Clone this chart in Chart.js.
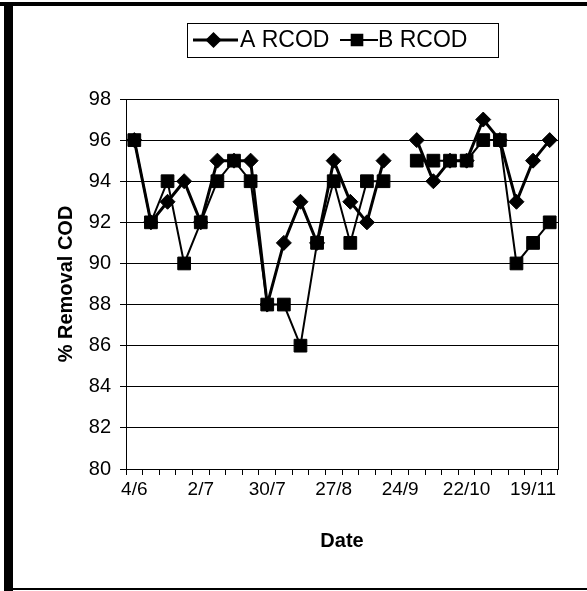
<!DOCTYPE html>
<html>
<head>
<meta charset="utf-8">
<script src="https://cdn.jsdelivr.net/npm/chart.js@4.4.0/dist/chart.umd.min.js"></script>
<style>
  html, body { margin: 0; padding: 0; background: #fff; }
  #wrap { width: 587px; height: 591px; position: relative; }
</style>
</head>
<body>
<div id="wrap"><canvas id="chart" width="587" height="591"></canvas></div>
<script>
// weekly sampling dates (category axis), label shown every 4th week
const dates = ["4/6", "11/6", "18/6", "25/6", "2/7", "9/7", "16/7", "23/7", "30/7", "6/8", "13/8",
  "20/8", "27/8", "3/9", "10/9", "17/9", "24/9", "1/10", "8/10", "15/10", "22/10", "29/10",
  "5/11", "12/11", "19/11", "26/11"];

// % removal COD, reactor A and B (null = no sample that week)
const aRcod = [96, 92, 93, 94, 92, 95, 95, 95, 88, 91, 93, 91, 95, 93, 92, 95, null,
  96, 94, 95, 95, 97, 96, 93, 95, 96];
const bRcod = [96, 92, 94, 90, 92, 94, 95, 94, 88, 88, 86, 91, 94, 91, 94, 94, null,
  95, 95, 95, 95, 96, 96, 90, 91, 92];

const yTicks = [80, 82, 84, 86, 88, 90, 92, 94, 96, 98];

const FONT = "'Liberation Sans', Arial, sans-serif";

// outer frame + right edge of plot box
const framePlugin = {
  id: "frame",
  beforeDraw(chart) {
    const ctx = chart.ctx;
    ctx.save();
    ctx.fillStyle = "#fff";
    ctx.fillRect(0, 0, chart.width, chart.height);
    ctx.fillStyle = "#000";
    ctx.fillRect(0, 2, 587, 4);      // top rule
    ctx.fillRect(4, 2, 9, 589);      // thick left bar
    ctx.fillRect(4, 588, 583, 2);    // bottom rule
    ctx.restore();
  },
  afterDraw(chart) {
    const { ctx, chartArea } = chart;
    ctx.save();
    ctx.strokeStyle = "#000";
    ctx.lineWidth = 1;
    ctx.beginPath();
    ctx.moveTo(chartArea.right + 0.5, chartArea.top);
    ctx.lineTo(chartArea.right + 0.5, chartArea.bottom);
    ctx.stroke();
    ctx.restore();
  }
};

// Excel style boxed legend with line + marker samples
const boxLegend = {
  id: "boxLegend",
  afterDraw(chart) {
    const ctx = chart.ctx;
    const box = { x: 187, y: 23, w: 311, h: 34 };
    ctx.save();
    ctx.fillStyle = "#fff";
    ctx.fillRect(box.x, box.y, box.w, box.h);
    ctx.strokeStyle = "#000";
    ctx.lineWidth = 1;
    ctx.strokeRect(box.x + 0.5, box.y + 0.5, box.w, box.h);
    const cy = box.y + box.h / 2;
    const items = [
      { ds: chart.data.datasets[0], x0: 193, x1: 238, tx: 240 },
      { ds: chart.data.datasets[1], x0: 340, x1: 378, tx: 378 }
    ];
    items.forEach(it => {
      ctx.strokeStyle = it.ds.borderColor;
      ctx.lineWidth = it.ds.borderWidth;
      ctx.beginPath();
      ctx.moveTo(it.x0, cy);
      ctx.lineTo(it.x1, cy);
      ctx.stroke();
      ctx.fillStyle = "#000";
      ctx.strokeStyle = "#000";
      Chart.helpers.drawPoint(ctx, {
        pointStyle: it.ds.pointStyle,
        radius: it.ds.pointRadius - 1.5,
        borderWidth: 1
      }, (it.x0 + it.x1) / 2 - 2, cy);
      ctx.fillStyle = "#000";
      ctx.font = "23px " + FONT;
      ctx.textBaseline = "middle";
      ctx.textAlign = "left";
      ctx.fillText(it.ds.label, it.tx, cy + 1);
    });
    ctx.restore();
  }
};

new Chart(document.getElementById("chart"), {
  type: "line",
  data: {
    labels: dates,
    datasets: [
      {
        label: "A RCOD",
        data: aRcod,
        borderColor: "#000",
        backgroundColor: "#000",
        borderWidth: 3,
        pointStyle: "rectRot",
        pointRadius: 7.5,
        pointBorderWidth: 1,
        tension: 0
      },
      {
        label: "B RCOD",
        data: bRcod,
        borderColor: "#000",
        backgroundColor: "#000",
        borderWidth: 2,
        pointStyle: "rect",
        pointRadius: 9,
        pointBorderWidth: 1,
        tension: 0
      }
    ]
  },
  options: {
    responsive: false,
    animation: false,
    layout: { padding: { left: 0, right: 29, top: 99, bottom: 0 } },
    plugins: {
      legend: { display: false },
      tooltip: { enabled: false }
    },
    scales: {
      x: {
        type: "category",
        offset: true,
        afterFit(scale) { scale.height = 122; },
        grid: {
          offset: true,
          drawOnChartArea: false,
          drawTicks: true,
          tickLength: 6,
          color: "#000"
        },
        border: { display: true, color: "#000", width: 1 },
        ticks: {
          autoSkip: false,
          maxRotation: 0,
          minRotation: 0,
          padding: 3,
          color: "#000",
          font: { family: FONT, size: 19 },
          callback(v, i) { return i % 4 === 0 ? dates[i] : ""; }
        },
        title: {
          display: true,
          text: "Date",
          color: "#000",
          font: { family: FONT, size: 20, weight: "bold" },
          padding: { top: 0, bottom: 38 }
        }
      },
      y: {
        min: yTicks[0],
        max: yTicks[yTicks.length - 1],
        afterFit(scale) { scale.width = 126; },
        afterBuildTicks(scale) { scale.ticks = yTicks.map(v => ({ value: v })); },
        grid: {
          color: "#000",
          lineWidth: 1,
          drawTicks: true,
          tickLength: 6
        },
        border: { display: true, color: "#000", width: 1 },
        ticks: {
          padding: 9,
          color: "#000",
          font: { family: FONT, size: 20 }
        },
        title: {
          display: true,
          text: "% Removal COD",
          color: "#000",
          font: { family: FONT, size: 20, weight: "bold" },
          padding: { top: 54, bottom: 0 }
        }
      }
    }
  },
  plugins: [framePlugin, boxLegend]
});
</script>
</body>
</html>
